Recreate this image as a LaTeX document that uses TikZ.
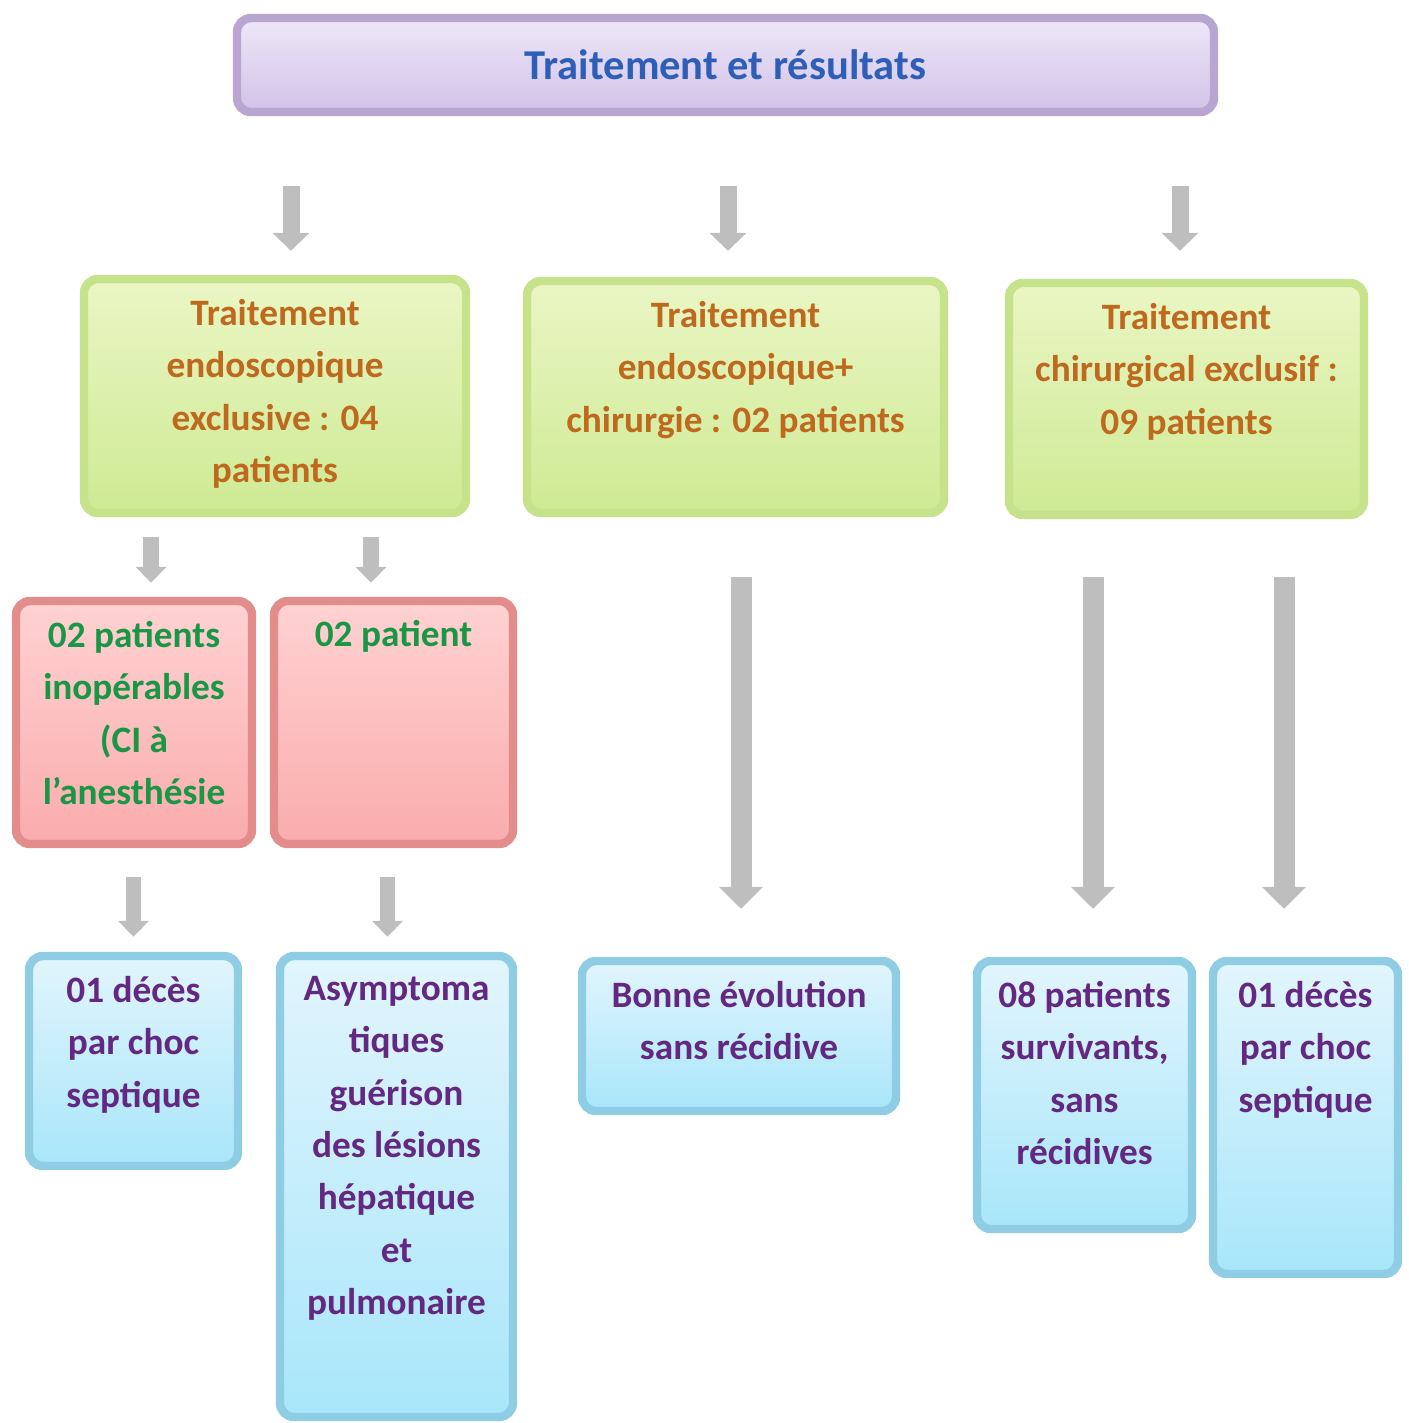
\documentclass[tikz,border=0pt]{standalone}
\usepackage{fontspec}
\setmainfont{Carlito}
\usetikzlibrary{arrows.meta, positioning}
\definecolor{titleblue}{RGB}{45,95,185}
\definecolor{titletop}{RGB}{238,231,248}
\definecolor{titlebottom}{RGB}{210,194,232}
\definecolor{titleborder}{RGB}{184,166,208}
\definecolor{greentop}{RGB}{234,246,196}
\definecolor{greenbottom}{RGB}{206,234,148}
\definecolor{greenborder}{RGB}{198,226,138}
\definecolor{orangetext}{RGB}{190,105,30}
\definecolor{redtop}{RGB}{255,210,210}
\definecolor{redbottom}{RGB}{250,172,172}
\definecolor{redborder}{RGB}{226,140,140}
\definecolor{greentext}{RGB}{25,150,70}
\definecolor{bluetop}{RGB}{226,245,253}
\definecolor{bluebottom}{RGB}{168,230,250}
\definecolor{blueborder}{RGB}{142,205,228}
\definecolor{purpletext}{RGB}{100,40,130}
\definecolor{arrowgray}{RGB}{190,190,190}

\tikzset{
  panel/.style={draw, line width=2.4pt, rounded corners=4pt, inner sep=0pt},
  titlebox/.style={panel, draw=titleborder, top color=titletop, bottom color=titlebottom},
  greenbox/.style={panel, draw=greenborder, top color=greentop, bottom color=greenbottom},
  redbox/.style={panel, draw=redborder, top color=redtop, bottom color=redbottom},
  bluebox/.style={panel, draw=blueborder, top color=bluetop, bottom color=bluebottom},
  boxtext/.style={align=center, inner sep=0pt, anchor=north, yshift=-0.24cm,
    font=\bfseries\fontsize{10.6}{14.88}\selectfont, execute at begin node=\strut},
  toparrow/.style={draw=arrowgray, line width=0.17cm, -{Triangle[width=0.36cm,length=0.18cm]}},
  smallarrow/.style={draw=arrowgray, line width=0.155cm, -{Triangle[width=0.30cm,length=0.16cm]}},
  longarrow/.style={draw=arrowgray, line width=0.21cm, -{Triangle[width=0.43cm,length=0.22cm]}}
}

\begin{document}
\begin{tikzpicture}
  \useasboundingbox (0,0) rectangle (14.09,-14.23);

  % Title
  \node[titlebox, minimum width=9.77cm, minimum height=0.94cm] (title) at (7.255,-0.65)
    {\textcolor{titleblue}{\bfseries\fontsize{12.1}{14}\selectfont Traitement et résultats}};

  % Treatments
  \node[greenbox, minimum width=3.82cm, minimum height=2.34cm,
        label={[boxtext, text=orangetext]north:Traitement\\endoscopique\\exclusive : 04\\patients}]
        (endo) at (2.75,-3.96) {};
  \node[greenbox, minimum width=4.17cm, minimum height=2.32cm,
        label={[boxtext, text=orangetext]north:Traitement\\endoscopique+\\chirurgie : 02 patients}]
        (mixed) at (7.355,-3.97) {};
  \node[greenbox, minimum width=3.55cm, minimum height=2.32cm,
        label={[boxtext, text=orangetext]north:Traitement\\chirurgical exclusif :\\09 patients}]
        (chir) at (11.865,-3.99) {};

  % Endoscopic subgroups
  \node[redbox, minimum width=2.36cm, minimum height=2.43cm,
        label={[boxtext, text=greentext]north:02 patients\\inopérables\\(CI à\\l’anesthésie}]
        (inop) at (1.34,-7.225) {};
  \node[redbox, minimum width=2.39cm, minimum height=2.43cm,
        label={[boxtext, text=greentext, yshift=0.12cm]north:02 patient}]
        (other) at (3.935,-7.225) {};

  % Outcomes
  \node[bluebox, minimum width=2.09cm, minimum height=2.10cm,
        label={[boxtext, text=purpletext]north:01 décès\\par choc\\septique}]
        (deathA) at (1.335,-10.61) {};
  \node[bluebox, minimum width=2.33cm, minimum height=4.61cm,
        label={[boxtext, text=purpletext]north:Asymptoma\\tiques\\guérison\\des lésions\\hépatique\\et\\pulmonaire}]
        (cured) at (3.965,-11.865) {};
  \node[bluebox, minimum width=3.14cm, minimum height=1.50cm,
        label={[boxtext, text=purpletext]north:Bonne évolution\\sans récidive}]
        (good) at (7.39,-10.36) {};
  \node[bluebox, minimum width=2.15cm, minimum height=2.68cm,
        label={[boxtext, text=purpletext]north:08 patients\\survivants,\\sans\\récidives}]
        (alive) at (10.845,-10.95) {};
  \node[bluebox, minimum width=1.85cm, minimum height=3.13cm,
        label={[boxtext, text=purpletext]north:01 décès\\par choc\\septique}]
        (deathB) at (13.055,-11.175) {};

  % Arrows
  \draw[toparrow, shorten <=0.70cm, shorten >=0.24cm] ([xshift=0.16cm]endo.north |- title.south) -- ([xshift=0.16cm]endo.north);
  \draw[toparrow, shorten <=0.70cm, shorten >=0.26cm] ([xshift=-0.075cm]mixed.north |- title.south) -- ([xshift=-0.075cm]mixed.north);
  \draw[toparrow, shorten <=0.70cm, shorten >=0.28cm] ([xshift=-0.065cm]chir.north |- title.south) -- ([xshift=-0.065cm]chir.north);

  \draw[smallarrow, shorten <=0.20cm, shorten >=0.14cm] ([xshift=0.17cm]inop.north |- endo.south) -- ([xshift=0.17cm]inop.north);
  \draw[smallarrow, shorten <=0.20cm, shorten >=0.14cm] ([xshift=-0.225cm]other.north |- endo.south) -- ([xshift=-0.225cm]other.north);

  \draw[smallarrow, shorten <=0.29cm, shorten >=0.15cm] (deathA.north |- inop.south) -- (deathA.north);
  \draw[smallarrow, shorten <=0.29cm, shorten >=0.15cm] ([xshift=-0.09cm]cured.north |- other.south) -- ([xshift=-0.09cm]cured.north);

  \draw[longarrow, shorten <=0.60cm, shorten >=0.48cm] ([xshift=0.02cm]good.north |- mixed.south) -- ([xshift=0.02cm]good.north);
  \draw[longarrow, shorten <=0.58cm, shorten >=0.48cm] ([xshift=0.085cm]alive.north |- chir.south) -- ([xshift=0.085cm]alive.north);
  \draw[longarrow, shorten <=0.58cm, shorten >=0.48cm] ([xshift=-0.215cm]deathB.north |- chir.south) -- ([xshift=-0.215cm]deathB.north);
\end{tikzpicture}
\end{document}
